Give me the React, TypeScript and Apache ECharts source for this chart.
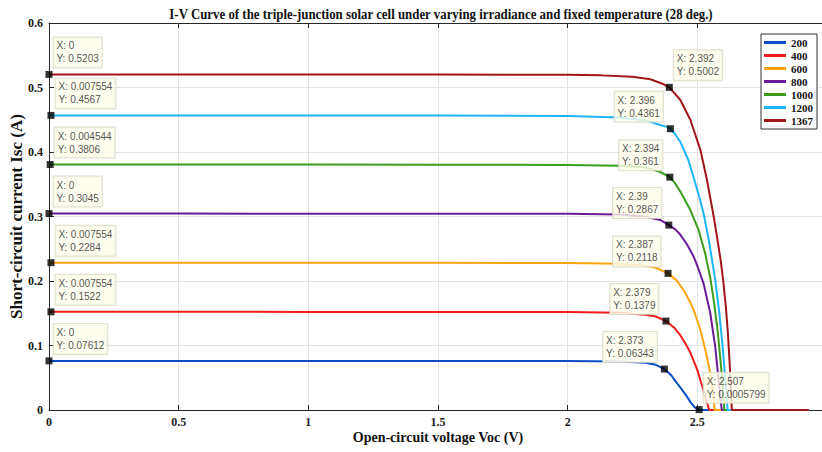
import { useEffect, useRef } from "react";
import * as echarts from "echarts";

// Irradiance levels (W/m²), one I-V curve each
const irradianceLevels = ["200", "400", "600", "800", "1000", "1200", "1367"];

// I-V curves: [voltage (V), current (A)]
const curve200: [number, number][] = [
  [0, 0.07612], [0.5, 0.07612], [1.0, 0.07611], [1.5, 0.0761], [2.0, 0.0758],
  [2.2, 0.0752], [2.3, 0.0733], [2.34, 0.07], [2.373, 0.06343], [2.4, 0.0535],
  [2.422, 0.0413], [2.44, 0.032], [2.46, 0.0207], [2.475, 0.0115], [2.49, 0.004],
  [2.507, 0.0005799], [2.51, 0], [2.93, 0],
];
const curve400: [number, number][] = [
  [0, 0.1522], [0.5, 0.1522], [1.0, 0.1521], [1.5, 0.152], [2.0, 0.1518],
  [2.2, 0.1508], [2.3, 0.1478], [2.34, 0.145], [2.379, 0.1379], [2.41, 0.128],
  [2.434, 0.116], [2.455, 0.1025], [2.473, 0.089], [2.499, 0.063], [2.518, 0.038],
  [2.533, 0.017], [2.546, 0], [2.93, 0],
];
const curve600: [number, number][] = [
  [0, 0.2284], [0.5, 0.2284], [1.0, 0.2283], [1.5, 0.2282], [2.0, 0.228],
  [2.2, 0.2268], [2.3, 0.2235], [2.34, 0.2205], [2.387, 0.2118], [2.42, 0.201],
  [2.447, 0.186], [2.47, 0.169], [2.486, 0.155], [2.512, 0.124], [2.531, 0.093],
  [2.55, 0.057], [2.56, 0.03], [2.567, 0], [2.93, 0],
];
const curve800: [number, number][] = [
  [0, 0.3045], [0.5, 0.3045], [1.0, 0.3044], [1.5, 0.3043], [2.0, 0.3041],
  [2.2, 0.303], [2.3, 0.2995], [2.357, 0.2946], [2.39, 0.2867], [2.415, 0.28],
  [2.434, 0.272], [2.46, 0.257], [2.486, 0.2377], [2.505, 0.218], [2.524, 0.196],
  [2.55, 0.15], [2.569, 0.098], [2.582, 0.0465], [2.594, 0], [2.93, 0],
];
const curve1000: [number, number][] = [
  [0, 0.3806], [0.5, 0.3806], [1.0, 0.3805], [1.5, 0.3804], [2.0, 0.38],
  [2.2, 0.3788], [2.3, 0.3762], [2.357, 0.369], [2.394, 0.361], [2.415, 0.351],
  [2.434, 0.339], [2.473, 0.31], [2.505, 0.279], [2.53, 0.243], [2.55, 0.205],
  [2.565, 0.165], [2.578, 0.124], [2.591, 0.07], [2.598, 0.035], [2.604, 0], [2.93, 0],
];
const curve1200: [number, number][] = [
  [0, 0.4567], [0.5, 0.4567], [1.0, 0.4566], [1.5, 0.4565], [2.0, 0.4559],
  [2.2, 0.4535], [2.3, 0.449], [2.357, 0.4419], [2.38, 0.4393], [2.396, 0.4361],
  [2.415, 0.4275], [2.434, 0.416], [2.465, 0.388], [2.486, 0.36], [2.505, 0.334],
  [2.524, 0.305], [2.544, 0.264], [2.569, 0.202], [2.585, 0.15], [2.597, 0.1],
  [2.607, 0.052], [2.617, 0], [2.93, 0],
];
const curve1367: [number, number][] = [
  [0, 0.5203], [0.5, 0.5203], [1.0, 0.5202], [1.5, 0.5201], [2.0, 0.5196],
  [2.13, 0.5188], [2.25, 0.5165], [2.319, 0.5127], [2.37, 0.505], [2.392, 0.5002],
  [2.434, 0.481], [2.473, 0.45], [2.512, 0.403], [2.537, 0.357], [2.563, 0.3],
  [2.58, 0.258], [2.59, 0.232], [2.6, 0.2], [2.61, 0.16], [2.618, 0.118],
  [2.625, 0.07], [2.633, 0], [2.93, 0],
];
const curves = [curve200, curve400, curve600, curve800, curve1000, curve1200, curve1367];

// Data tips near V = 0 (short-circuit point of each curve)
const startTipV = [0, 0.007554, 0.007554, 0, 0.004544, 0.007554, 0];
const startTipI = [0.07612, 0.1522, 0.2284, 0.3045, 0.3806, 0.4567, 0.5203];
// Data tips at the knee of each curve
const kneeTipV = [2.373, 2.379, 2.387, 2.39, 2.394, 2.396, 2.392];
const kneeTipI = [0.06343, 0.1379, 0.2118, 0.2867, 0.361, 0.4361, 0.5002];
// Data tip where the 200 W/m² curve reaches zero current
const endTipV = 2.507;
const endTipI = 0.0005799;

// Axis ticks
const voltageTicks = { min: 0, max: 3, step: 0.5 };
const currentTicks = { min: 0, max: 0.6, step: 0.1 };

const chartTitle =
  "I-V Curve of the triple-junction solar cell under varying irradiance and fixed temperature (28 deg.)";

// Styling
const lineColors = ["#0c4ec6", "#f01d1d", "#fca40f", "#6a1c98", "#3c9c1d", "#1db5f6", "#a0161b"];
const kneeTipSide = ["left", "left", "left", "left", "left", "left", "right"];
const SERIF = "'Liberation Serif', 'Times New Roman', serif";
const SANS = "'Liberation Sans', Arial, sans-serif";
const AXIS_COLOR = "#262626";
const TIP_SIZE = 7;
const TIP_FONT = 10;
const TIP_PAD = [2, 3, 2, 3];

const tipText = (v: number, i: number) => `X: ${v}\nY: ${i}`;

export default function App() {
  const ref = useRef<HTMLDivElement>(null);

  useEffect(() => {
    if (!ref.current) return;
    const chart = echarts.init(ref.current, null, { renderer: "svg" });

    // width of a data-tip box, so boxes left of a marker can end at a fixed gap
    const ctx = document.createElement("canvas").getContext("2d")!;
    ctx.font = `${TIP_FONT}px ${SANS}`;
    const tipBoxWidth = (s: string) =>
      Math.max(...s.split("\n").map((line) => ctx.measureText(line).width)) + TIP_PAD[1] + TIP_PAD[3];

    const tipLabelBase = {
      show: true,
      formatter: (p: any) => tipText(p.value[0], p.value[1]),
      fontFamily: SANS,
      fontSize: TIP_FONT,
      lineHeight: 13,
      color: "#262626",
      backgroundColor: "#fdfdec",
      borderColor: "#d8d6c2",
      borderWidth: 1,
      padding: TIP_PAD,
      align: "left",
      verticalAlign: "top",
    };
    const upRight = () => ({ ...tipLabelBase, position: [8, -33.5] });
    const upLeft = (v: number, i: number) => ({
      ...tipLabelBase,
      position: [-4 - tipBoxWidth(tipText(v, i)), -33.5],
    });

    const tipData = [
      ...startTipV.map((v, k) => ({ value: [v, startTipI[k]], label: upRight() })),
      ...kneeTipV.map((v, k) => ({
        value: [v, kneeTipI[k]],
        label: kneeTipSide[k] === "right" ? upRight() : upLeft(v, kneeTipI[k]),
      })),
      { value: [endTipV, endTipI], label: upRight() },
    ];

    const axisLine = { show: true, onZero: false, lineStyle: { color: AXIS_COLOR, width: 1 } };
    const axisTick = { show: true, inside: true, length: 5, lineStyle: { color: AXIS_COLOR, width: 1 } };
    const tickLabel = {
      fontFamily: SERIF,
      fontWeight: "bold",
      fontSize: 12,
      color: "#1a1a1a",
    };
    const splitLine = { show: true, lineStyle: { color: "#e3e3e3", width: 1 } };

    chart.setOption({
      animation: false,
      backgroundColor: "#ffffff",
      graphic: [
        {
          type: "text",
          x: 441,
          y: 14.5,
          scaleX: 0.92,
          silent: true,
          style: {
            text: chartTitle,
            fontFamily: SERIF,
            fontWeight: "bold",
            fontSize: 14,
            fill: "#111",
            align: "center",
            verticalAlign: "middle",
          },
        },
      ],
      grid: { left: 49, top: 23, right: -5, bottom: 42, outerBoundsMode: "none", containLabel: false },
      legend: {
        data: irradianceLevels,
        orient: "vertical",
        left: 761,
        top: 34,
        padding: [3, 4, 3, 3],
        itemGap: 2,
        itemWidth: 22,
        itemHeight: 3,
        icon: "rect",
        backgroundColor: "#ffffff",
        borderColor: "#333333",
        borderWidth: 1,
        selectedMode: false,
        textStyle: { fontFamily: SERIF, fontWeight: "bold", fontSize: 11, lineHeight: 11, color: "#111" },
      },
      xAxis: [
        {
          type: "value",
          min: voltageTicks.min,
          max: voltageTicks.max,
          interval: voltageTicks.step,
          position: "bottom",
          axisLine,
          axisTick,
          axisLabel: { ...tickLabel, margin: 6, showMaxLabel: false },
          splitLine,
          name: "Open-circuit voltage Voc (V)",
          nameLocation: "middle",
          nameGap: 20,
          nameMoveOverlap: false,
          nameTextStyle: { fontFamily: SERIF, fontWeight: "bold", fontSize: 14, color: "#111" },
        },
        {
          type: "value",
          min: voltageTicks.min,
          max: voltageTicks.max,
          interval: voltageTicks.step,
          position: "top",
          axisLine,
          axisTick,
          axisLabel: { show: false },
          splitLine: { show: false },
        },
      ],
      yAxis: [
        {
          type: "value",
          min: currentTicks.min,
          max: currentTicks.max,
          interval: currentTicks.step,
          position: "left",
          axisLine,
          axisTick,
          axisLabel: { ...tickLabel, margin: 6 },
          splitLine,
          name: "Short-circuit current Isc (A)",
          nameLocation: "middle",
          nameGap: 24,
          nameMoveOverlap: false,
          nameTextStyle: { fontFamily: SERIF, fontWeight: "bold", fontSize: 17, color: "#111" },
        },
        {
          type: "value",
          min: currentTicks.min,
          max: currentTicks.max,
          interval: currentTicks.step,
          position: "right",
          axisLine,
          axisTick,
          axisLabel: { show: false },
          splitLine: { show: false },
        },
      ],
      series: [
        ...curves.map((data, k) => ({
          name: irradianceLevels[k],
          type: "line",
          data,
          showSymbol: false,
          symbol: "none",
          color: lineColors[k],
          lineStyle: { color: lineColors[k], width: 2 },
          emphasis: { disabled: true },
          silent: true,
          clip: false,
          z: 2 + k * 0.01,
        })),
        {
          name: "data tips",
          type: "scatter",
          data: tipData,
          symbol: "rect",
          symbolSize: TIP_SIZE,
          itemStyle: { color: "#000000" },
          clip: false,
          silent: true,
          emphasis: { disabled: true },
          z: 5,
        },
      ],
    });

    return () => chart.dispose();
  }, []);

  return (
    <div
      ref={ref}
      style={{ position: "absolute", left: 0, top: 0, width: 822, height: 452 }}
    />
  );
}
